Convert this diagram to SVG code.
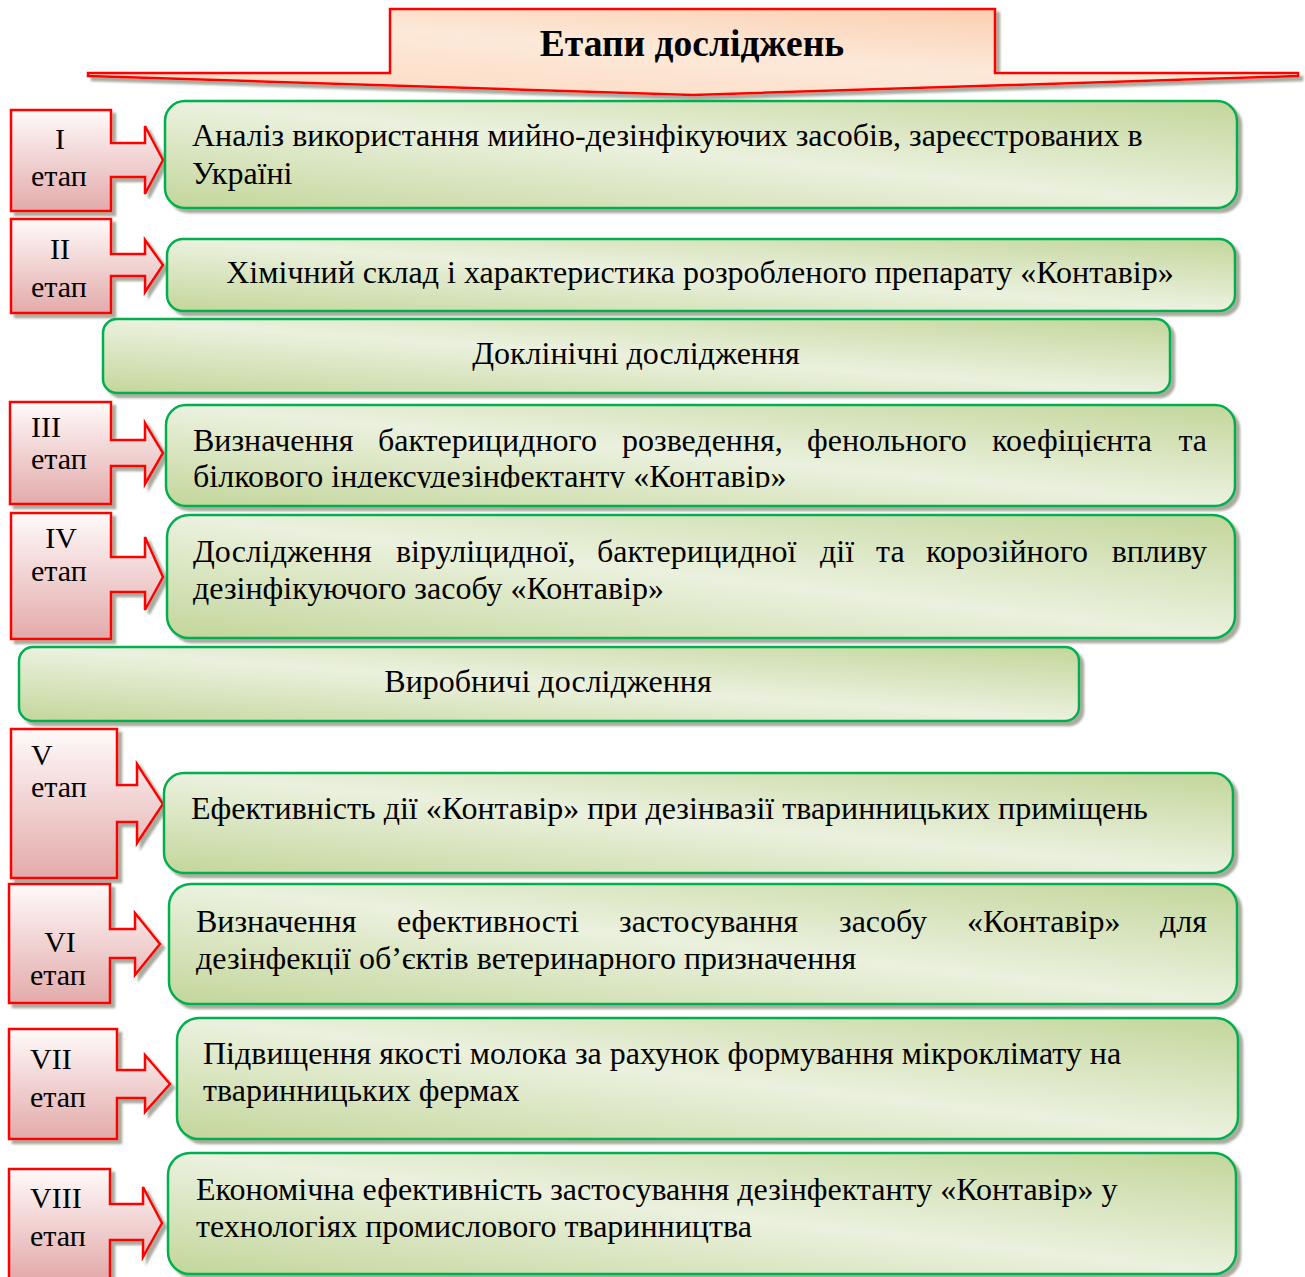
<svg xmlns="http://www.w3.org/2000/svg" width="1305" height="1277" viewBox="0 0 1305 1277">
<defs>
  <linearGradient id="gGreen" x1="0" y1="1" x2="1" y2="0">
    <stop offset="0" stop-color="#c3d69b"/>
    <stop offset="0.5" stop-color="#ebf1de"/>
    <stop offset="1" stop-color="#c3d69b"/>
  </linearGradient>
  <linearGradient id="gRed" x1="0" y1="0" x2="0" y2="1">
    <stop offset="0" stop-color="#fffafa"/>
    <stop offset="1" stop-color="#e3aaaa"/>
  </linearGradient>
  <linearGradient id="gPeach" x1="1" y1="0" x2="0" y2="1">
    <stop offset="0" stop-color="#f9c6a2"/>
    <stop offset="0.5" stop-color="#fde9d9"/>
    <stop offset="1" stop-color="#fcd8bf"/>
  </linearGradient>
  <filter id="sh" x="-5%" y="-10%" width="110%" height="130%">
    <feDropShadow dx="4" dy="4" stdDeviation="1.2" flood-color="#6f7560" flood-opacity="0.6"/>
  </filter>
  <clipPath id="clipIII"><rect x="170" y="408" width="1060" height="80"/></clipPath>
</defs>
<style>
  .box { fill: url(#gGreen); stroke: #00b050; stroke-width: 2.5; filter: url(#sh); }
  .call { fill: url(#gRed); stroke: #ff0000; stroke-width: 2.5; filter: url(#sh); stroke-linejoin: miter; }
  .t { font-family: "Liberation Serif", "Times New Roman", serif; font-size: 32px; fill: #000; }
  .lab { font-family: "Liberation Serif", "Times New Roman", serif; font-size: 30px; fill: #000; }
  .c { text-anchor: middle; }
  .title { font-family: "Liberation Serif", "Times New Roman", serif; font-size: 37.5px; font-weight: bold; fill: #000; text-anchor: middle; }
</style>

<g id="title">
  <path d="M88,73 H390 V9 H995 V73 H1298 L1298,76 L693,95 L88,76 Z" fill="url(#gPeach)" stroke="#ff0000" stroke-width="2.5" filter="url(#sh)"/>
  <text class="title" x="692" y="56">Етапи досліджень</text>
</g>

<g id="connectors"></g>

<!-- Stage I -->
<g id="stage1">
  <path class="call" d="M11,110 H111 V143 H145 V126 L163,160 L145,194 V177 H111 V211 H11 Z"/>
  <text class="lab c" x="60" y="149">I</text>
  <text class="lab" x="31" y="186">етап</text>
</g>
<g id="box1">
  <rect class="box" x="165" y="101" width="1072" height="107" rx="20"/>
  <text class="t" x="192" y="146">Аналіз використання мийно-дезінфікуючих засобів, зареєстрованих в</text>
  <text class="t" x="192" y="184">Україні</text>
</g>

<!-- Stage II -->
<g id="stage2">
  <path class="call" d="M11,219 H111 V254 H145 V240 L163,265 L145,292 V276 H111 V313 H11 Z"/>
  <text class="lab c" x="60" y="259">II</text>
  <text class="lab" x="31" y="297">етап</text>
</g>
<g id="box2">
  <rect class="box" x="167" y="239" width="1068" height="72" rx="16"/>
  <text class="t c" x="700" y="283">Хімічний склад і характеристика розробленого препарату «Контавір»</text>
</g>

<g id="preclinical">
  <rect class="box" x="103" y="319" width="1067" height="74" rx="14"/>
  <text class="t c" x="636" y="364">Доклінічні дослідження</text>
</g>

<!-- Stage III -->
<g id="stage3">
  <path class="call" d="M10,402 H111 V440 H145 V423 L163,453 L145,484 V466 H111 V504 H10 Z"/>
  <text class="lab" x="31" y="437">III</text>
  <text class="lab" x="31" y="469">етап</text>
</g>
<g id="box3">
  <rect class="box" x="166" y="405" width="1069" height="101" rx="20"/>
  <text class="t" y="451"><tspan x="193">Визначення</tspan><tspan x="378">бактерицидного</tspan><tspan x="622">розведення,</tspan><tspan x="807">фенольного</tspan><tspan x="992">коефіцієнта</tspan><tspan x="1207" text-anchor="end">та</tspan></text>
  <text class="t" x="193" y="487" clip-path="url(#clipIII)">білкового індексудезінфектанту «Контавір»</text>
</g>

<!-- Stage IV -->
<g id="stage4">
  <path class="call" d="M11,513 H111 V557 H145 V537 L163,577 L145,610 V592 H111 V639 H11 Z"/>
  <text class="lab c" x="61" y="548">IV</text>
  <text class="lab" x="31" y="581">етап</text>
</g>
<g id="box4">
  <rect class="box" x="167" y="515" width="1068" height="123" rx="22"/>
  <text class="t" y="562"><tspan x="193">Дослідження</tspan><tspan x="396">віруліцидної,</tspan><tspan x="597">бактерицидної</tspan><tspan x="820">дії</tspan><tspan x="876">та</tspan><tspan x="926">корозійного</tspan><tspan x="1207" text-anchor="end">впливу</tspan></text>
  <text class="t" x="193" y="599">дезінфікуючого засобу «Контавір»</text>
</g>

<g id="production">
  <rect class="box" x="19" y="647" width="1060" height="74" rx="14"/>
  <text class="t c" x="548" y="692">Виробничі дослідження</text>
</g>

<!-- Stage V -->
<g id="stage5">
  <path class="call" d="M11,729 H117 V785 H137 V764 L163,804 L137,843 V822 H117 V878 H11 Z"/>
  <text class="lab" x="31" y="765">V</text>
  <text class="lab" x="31" y="797">етап</text>
</g>
<g id="box5">
  <rect class="box" x="164" y="773" width="1069" height="100" rx="20"/>
  <text class="t" x="191" y="819">Ефективність дії «Контавір» при дезінвазії тваринницьких приміщень</text>
</g>

<!-- Stage VI -->
<g id="stage6">
  <path class="call" d="M9,884 H110 V929 H135 V913 L160,944 L135,975 V958 H110 V1003 H9 Z"/>
  <text class="lab c" x="60" y="952">VI</text>
  <text class="lab" x="30" y="985">етап</text>
</g>
<g id="box6">
  <rect class="box" x="169" y="884" width="1068" height="120" rx="22"/>
  <text class="t" y="932"><tspan x="196">Визначення</tspan><tspan x="397">ефективності</tspan><tspan x="619">застосування</tspan><tspan x="839">засобу</tspan><tspan x="967">«Контавір»</tspan><tspan x="1207" text-anchor="end">для</tspan></text>
  <text class="t" x="196" y="969">дезінфекції об’єктів ветеринарного призначення</text>
</g>

<!-- Stage VII -->
<g id="stage7">
  <path class="call" d="M9,1029 H117 V1070 H145 V1055 L170,1084 L145,1112 V1098 H117 V1139 H9 Z"/>
  <text class="lab" x="30" y="1069">VII</text>
  <text class="lab" x="30" y="1107">етап</text>
</g>
<g id="box7">
  <rect class="box" x="177" y="1018" width="1061" height="121" rx="22"/>
  <text class="t" x="203" y="1064">Підвищення якості молока за рахунок формування мікроклімату на</text>
  <text class="t" x="203" y="1101">тваринницьких фермах</text>
</g>

<!-- Stage VIII -->
<g id="stage8">
  <path class="call" d="M9,1169 H110 V1204 H143 V1187 L162,1223 L143,1257 V1240 H110 V1279 H9 Z"/>
  <text class="lab" x="30" y="1208">VIII</text>
  <text class="lab" x="30" y="1246">етап</text>
</g>
<g id="box8">
  <rect class="box" x="168" y="1153" width="1068" height="121" rx="22"/>
  <text class="t" x="196" y="1200">Економічна ефективність застосування дезінфектанту «Контавір» у</text>
  <text class="t" x="196" y="1237">технологіях промислового тваринництва</text>
</g>
</svg>
